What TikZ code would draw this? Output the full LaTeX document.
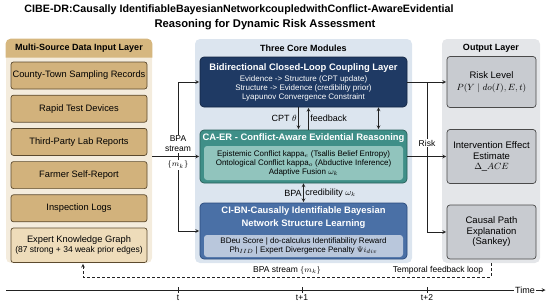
\documentclass[tikz,border=0pt]{standalone}
\usepackage{fontspec}
\setmainfont{Liberation Sans}
\usepackage{amsmath,amssymb}
\usepackage{xcolor}
\usetikzlibrary{arrows, positioning, calc}

\definecolor{inbg}{HTML}{F4ECDD}
\definecolor{headtan}{HTML}{D6B77F}
\definecolor{tanbox}{HTML}{D2B27C}
\definecolor{tanedge}{HTML}{5C4A2E}
\definecolor{expertbg}{HTML}{EEDCBA}
\definecolor{corebg}{HTML}{DCE5EF}
\definecolor{navy}{HTML}{1F3A64}
\definecolor{navyedge}{HTML}{132644}
\definecolor{teal}{HTML}{3F8F88}
\definecolor{tealedge}{HTML}{285F59}
\definecolor{tealin}{HTML}{91C4BD}
\definecolor{cibn}{HTML}{4A70A6}
\definecolor{cibnedge}{HTML}{2A4A7C}
\definecolor{cibnin}{HTML}{B9C7DC}
\definecolor{outbg}{HTML}{E4E6E9}
\definecolor{outbox}{HTML}{C8CBD0}
\definecolor{outedge}{HTML}{4A4A4A}
\definecolor{wire}{HTML}{222222}

\begin{document}
\begin{tikzpicture}[x=1pt, y=-1pt, >=stealth, line width=0.7pt]
    \tikzset{
        panel/.style={rectangle, rounded corners=5pt, inner sep=0pt},
        headtext/.style={font=\fontsize{9}{10}\selectfont\bfseries, inner sep=0pt},
        titletext/.style={font=\fontsize{11.2}{13}\selectfont\bfseries, inner sep=0pt},
        inbox/.style={rectangle, draw=tanedge, fill=tanbox, rounded corners=2.5pt, minimum width=136pt, minimum height=27pt, align=center, inner sep=1pt, font=\fontsize{9.3}{10.5}\selectfont},
        module/.style={rectangle, rounded corners=4pt, minimum width=207pt, align=center, inner sep=1pt, text=white},
        modtitle/.style={font=\fontsize{9.4}{13}\selectfont\bfseries, text=white, align=center, inner sep=0pt},
        inner/.style={rectangle, rounded corners=3pt, minimum width=199pt, align=center, inner sep=1pt, font=\fontsize{8}{9}\selectfont},
        outbox/.style={rectangle, draw=outedge, fill=outbox, rounded corners=3pt, minimum width=89pt, minimum height=54pt, align=center, inner sep=1pt, font=\fontsize{9.5}{10.5}\selectfont},
        wirelabel/.style={font=\fontsize{9}{10}\selectfont, inner sep=1.5pt},
        buslabel/.style={font=\fontsize{8.5}{10}\selectfont, fill=white, inner sep=1pt, align=center},
        line/.style={draw=wire, ->, shorten >=0.5pt}
    }
    \useasboundingbox (0,0) rectangle (550,306);

    % title
    \node (title1) [titletext, font=\fontsize{10.7}{13}\selectfont\bfseries] at (239,10) {CIBE-DR:Causally IdentifiableBayesianNetworkcoupledwithConflict-AwareEvidential};
    \node (title2) [titletext] at (265,25) {Reasoning for Dynamic Risk Assessment};

    % panels
    \node (inPanel) [panel, fill=inbg, minimum width=146pt, minimum height=224pt] at (79,151) {};
    \fill[headtan] ([yshift=-19pt]inPanel.north west) {[rounded corners=5pt] -- (inPanel.north west) -- (inPanel.north east)} -- ([yshift=-19pt]inPanel.north east) -- cycle;
    \node (inHead) [headtext] at (79,48) {Multi-Source Data Input Layer};
    \node (corePanel) [panel, fill=corebg, minimum width=217pt, minimum height=224pt] at (303.5,151) {};
    \node (coreHead) [headtext] at (303.5,48) {Three Core Modules};
    \node (outPanel) [panel, fill=outbg, minimum width=98pt, minimum height=224pt] at (491,151) {};
    \node (outHead) [headtext] at (491,48) {Output Layer};

    % input sources
    \node (samp) [inbox] at (79,75.5) {County-Town Sampling Records};
    \node (rapid) [inbox, below=5.5pt of samp] {Rapid Test Devices};
    \node (lab) [inbox, below=5.5pt of rapid] {Third-Party Lab Reports};
    \node (farmer) [inbox, below=5.5pt of lab] {Farmer Self-Report};
    \node (insp) [inbox, below=5.5pt of farmer] {Inspection Logs};
    \node (expert) [inbox, fill=expertbg, minimum height=34.5pt, below=5.5pt of insp] {Expert Knowledge Graph\\{\fontsize{8.5}{10}\selectfont(87 strong + 34 weak prior edges)}};

    % core modules
    \node (couple) [module, draw=navyedge, fill=navy, minimum height=50pt, font=\fontsize{8}{8.8}\selectfont] at (303.5,82) {{\fontsize{9.4}{10}\selectfont\bfseries Bidirectional Closed-Loop Coupling Layer}\\[2.5pt]Evidence -> Structure (CPT update)\\Structure -> Evidence (credibility prior)\\Lyapunov Convergence Constraint};
    \node (caer) [module, draw=tealedge, fill=teal, minimum height=53pt] at (303.5,156.5) {};
    \node (caerTitle) [modtitle, below=3.5pt of caer.north] {CA-ER - Conflict-Aware Evidential Reasoning};
    \node (caerIn) [inner, fill=tealin, minimum height=34pt, above=3pt of caer.south] {Epistemic Conflict kappa$_e$ (Tsallis Belief Entropy)\\Ontological Conflict kappa$_o$ (Abductive Inference)\\Adaptive Fusion $\omega_k$};
    \node (cibnBox) [module, draw=cibnedge, fill=cibn, minimum height=56pt] at (303.5,231) {};
    \node (cibnTitle) [modtitle, below=4pt of cibnBox.north] {CI-BN-Causally Identifiable Bayesian\\Network Structure Learning};
    \node (cibnIn) [inner, fill=cibnin, minimum height=22pt, above=2pt of cibnBox.south] {BDeu Score | do-calculus Identifiability Reward\\Ph$_{IID}$ | Expert Divergence Penalty $\Psi i_{div}$};

    % outputs
    \node (rlvl) [outbox, minimum height=51pt] at (491.5,82) {Risk Level\\[1pt]$P(Y\mid do(I),E,t)$};
    \node (ace) [outbox] at (491.5,156.5) {Intervention Effect\\Estimate\\$\Delta\_ACE$};
    \node (cpath) [outbox] at (491.5,232) {Causal Path\\Explanation\\(Sankey)};

    % module links
    \path [line] ([xshift=-5pt]couple.south) -- node [wirelabel, left] {CPT $\theta$} ([xshift=-5pt]caer.north);
    \path [line] ([xshift=5pt]caer.north) -- node [wirelabel, right] {feedback} ([xshift=5pt]couple.south);
    \path [line, <->] ([xshift=75pt]couple.south) -- ([xshift=75pt]caer.north);
    \path [line, <->] (caer.south) -- node [wirelabel, left] {BPA} node [wirelabel, right] {credibility $\omega_k$} (cibnBox.north);

    % BPA stream in
    \coordinate (lbus) at (178,0);
    \draw [wire] (lbus |- couple.west) -- (lbus |- cibnBox.west);
    \node (bpaIn) [buslabel, anchor=south] at (178,153) {BPA\\stream};
    \node (mkIn) [buslabel, anchor=north] at (178,159.5) {$\{m_k\}$};
    \path [line] (inPanel.east |- caer.west) -- (caer.west);
    \path [line] (lbus |- couple.west) -- (couple.west);
    \path [line] (lbus |- cibnBox.west) -- (cibnBox.west);

    % risk out
    \coordinate (rbus) at (427,0);
    \draw [wire] (rbus |- couple.east) -- (rbus |- cpath.west);
    \node (riskLbl) [buslabel] at (427,143) {Risk};
    \path [line] (couple.east) -- (rlvl.west);
    \path [line] (caer.east) -- (ace.west);
    \path [line] (rbus |- cpath.west) -- (cpath.west);

    % temporal feedback
    \coordinate (fbTurn) at (83,277);
    \path [line, dashed, dash pattern=on 3pt off 2pt] (outPanel.south) |- (fbTurn) -- (fbTurn |- inPanel.south);
    \node (bpaLbl) [wirelabel, font=\fontsize{8.5}{10}\selectfont] at (287,270.5) {BPA stream $\{m_k\}$};
    \node (tempLbl) [wirelabel, font=\fontsize{8.5}{10}\selectfont, anchor=east] at (485,270.5) {Temporal feedback loop};

    % time axis
    \coordinate (tStart) at (6,290);
    \coordinate (tEnd) at (546,290);
    \path [line] (tStart) -- (tEnd);
    \node (timeLbl) [wirelabel, fill=white, font=\fontsize{9}{10}\selectfont] at (525,290) {Time};
    \foreach \x/\lab [count=\i] in {178/t, 302/t+1, 427/t+2} {
        \draw [wire] (\x,287) -- (\x,293);
        \node (tick\i) [wirelabel, font=\fontsize{8.5}{10}\selectfont, anchor=north] at (\x,293) {\lab};
    }

\end{tikzpicture}
\end{document}
